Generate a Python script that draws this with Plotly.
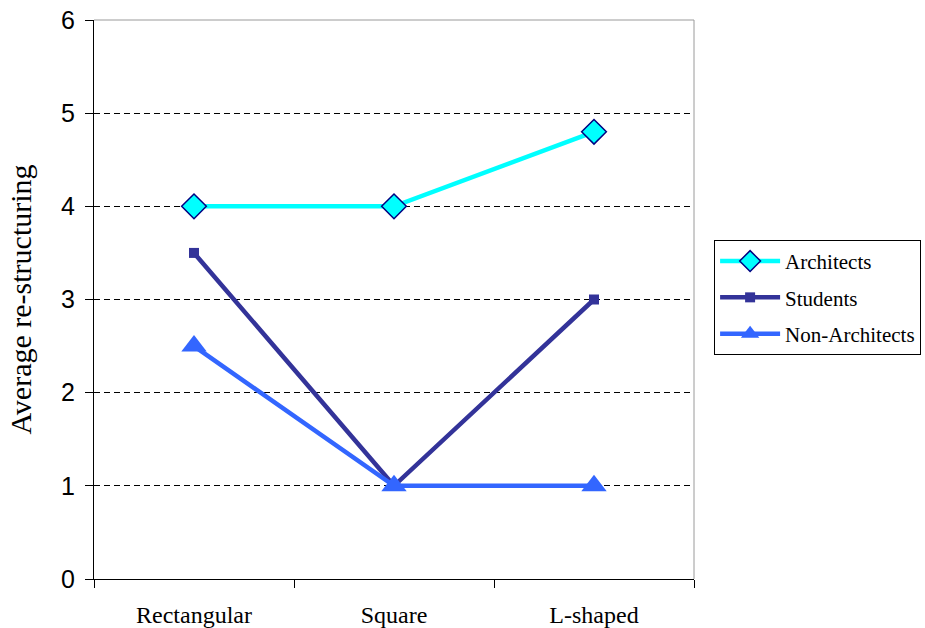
import plotly.graph_objects as go

# Floor-plan shape categories and average re-structuring per group
shapes = ["Rectangular", "Square", "L-shaped"]
architects = [4.0, 4.0, 4.8]
students = [3.5, 1.0, 3.0]
non_architects = [2.5, 1.0, 1.0]
y_ticks = [0, 1, 2, 3, 4, 5, 6]

SERIF = "Liberation Serif, Times New Roman, serif"
SANS = "Liberation Sans, Arial, sans-serif"

fig = go.Figure()

fig.add_trace(go.Scatter(
    x=shapes, y=architects, name="Architects", mode="lines+markers",
    line=dict(color="#00FFFF", width=4.5),
    marker=dict(symbol="diamond", size=19, color="#00FFFF",
                line=dict(color="#000080", width=1.5)),
    legendgroup="a",
))
fig.add_trace(go.Scatter(
    x=shapes, y=students, name="Students", mode="lines+markers",
    line=dict(color="#333399", width=4.5),
    marker=dict(symbol="square", size=10, color="#333399"),
    legendgroup="s",
))
fig.add_trace(go.Scatter(
    x=shapes, y=non_architects, name="Non-Architects", mode="lines+markers",
    line=dict(color="#3366FF", width=4.5),
    marker=dict(symbol="triangle-up", size=22, color="#3366FF"),
    legendgroup="n",
))

fig.update_layout(
    width=925, height=628,
    margin=dict(l=94, r=231, t=20, b=49),
    paper_bgcolor="white", plot_bgcolor="white",
    showlegend=True,
    legend=dict(
        xref="container", yref="container",
        x=0.772, y=0.618, xanchor="left", yanchor="top",
        bordercolor="black", borderwidth=1, bgcolor="white",
        font=dict(family=SERIF, size=21, color="black"),
        traceorder="grouped", tracegroupgap=6, itemwidth=60,
    ),
    xaxis=dict(
        type="category", range=[-0.5, 2.5], tickson="boundaries",
        ticks="outside", ticklen=8, tickcolor="black",
        showline=True, linecolor="black", linewidth=1, mirror=False,
        showgrid=False, zeroline=False, automargin=False,
        tickfont=dict(family=SERIF, size=24, color="black"),
        ticklabelstandoff=14,
    ),
    yaxis=dict(
        range=[0, 6], tickvals=y_ticks,
        ticks="outside", ticklen=8, tickcolor="black",
        showline=True, linecolor="black", linewidth=1,
        showgrid=True, gridcolor="black", griddash="6px,4px", gridwidth=0.8,
        zeroline=False, automargin=False,
        tickfont=dict(family=SANS, size=25, color="black"),
        ticklabelstandoff=5,
        title=dict(text="Average re-structuring",
                   font=dict(family=SERIF, size=30, color="black"),
                   standoff=20),
    ),
    shapes=[
        # gray frame on the top and right of the plotting area
        dict(type="line", xref="paper", yref="paper", x0=0, x1=1, y0=1, y1=1,
             line=dict(color="#9a9a9a", width=1)),
        dict(type="line", xref="paper", yref="paper", x0=1, x1=1, y0=0, y1=1,
             line=dict(color="#9a9a9a", width=1)),
    ],
)

fig.write_html("out.html")
